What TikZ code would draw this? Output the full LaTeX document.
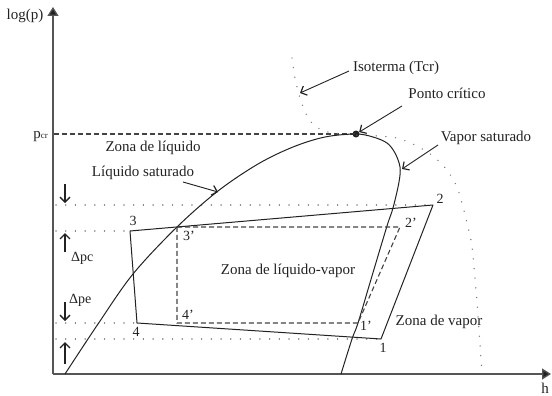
\documentclass[tikz,border=0pt]{standalone}
\usepackage{fontspec}
\setmainfont{Liberation Serif}[Ligatures=ResetAll]
\usetikzlibrary{arrows.meta}
\definecolor{ink}{HTML}{222222}
\definecolor{axisgray}{HTML}{555555}
\definecolor{dotgray}{HTML}{7A7A7A}
\begin{document}
\begin{tikzpicture}[x=1pt,y=-1pt,
  lbl/.style={font=\fontsize{15}{18}\selectfont, text=ink, inner sep=0pt},
  num/.style={font=\fontsize{14}{16}\selectfont, text=ink, inner sep=0pt},
  curve/.style={draw=ink, line width=1pt},
  cyc/.style={draw=ink, line width=1pt, line join=round},
  dcyc/.style={draw=ink!85, line width=1.1pt, dash pattern=on 5pt off 3pt},
  dots/.style={draw=dotgray, line width=1.5pt, dash pattern=on 0.01pt off 9.7pt, line cap=round},
  pointer/.style={draw=ink, line width=0.9pt, -{Straight Barb[length=5pt,width=10pt,line width=1.2pt]}},
  parrow/.style={draw=ink, line width=1.1pt, -{Straight Barb[length=5pt,width=10pt,line width=1.3pt]}},
  axis/.style={draw=axisgray, line width=1.3pt, -{Triangle[length=9pt,width=11pt,fill=ink]}},
]
\useasboundingbox (0,0) rectangle (552,396);

% axes
\coordinate (O) at (53,374);
\coordinate (Ytop) at (53,7);
\coordinate (Xend) at (551,374);
\draw[axis] (O) -- (Ytop);
\draw[axis] (O) -- (Xend);
\node[lbl] (logp) at (25,16) {log(p)};
\node[lbl] (hlab) at (545,388) {h};

% critical pressure
\node[circle, fill=ink, inner sep=0pt, minimum size=7pt] (cp) at (356,134) {};
\coordinate (pcrY) at (54,134);
\draw[dcyc] (pcrY) -- (cp.center);
\node[lbl, anchor=base east] (pcr) at (48,138) {p{\fontsize{9}{9}\selectfont cr}};

% isotherm
\draw[dots] plot[smooth, tension=0.5] coordinates {(292,58) (295,78) (300,98) (307,116) (314,125) (324,131) (340,134) (356,135) (378,136) (397,138) (415,145) (433,156) (447,170) (457,187) (463,207) (468,227) (472,247) (476,290) (479,330) (482,374)};

% pressure levels (dotted)
\coordinate (p1) at (381,339);
\coordinate (p2) at (433,205);
\coordinate (p3) at (130,231);
\coordinate (p4) at (137,323);
\coordinate (q1) at (358,323);
\coordinate (q2) at (400,227);
\coordinate (q3) at (177,227);
\coordinate (q4) at (177,323);
\coordinate (L2) at (56,205);
\coordinate (L3) at (56,231);
\coordinate (L4) at (56,323);
\coordinate (L1) at (56,339);
\draw[dots] (L2) -- (p2);
\draw[dots] (L3) -- (p3);
\draw[dots] (L4) -- (p4);
\draw[dots] (L1) -- (p1);

% saturation dome
\draw[curve] plot[smooth, tension=0.55] coordinates {(65,374) (98,324) (133,274) (177,227) (218,191) (258,164) (293,147) (325,137) (356,134) (373,137) (387,143) (395,153) (400,167) (399,182) (393,208) (387,226) (372,276) (358,323) (352,339) (341,374)};

% ideal cycle (dashed)
\draw[dcyc] (q3) -- (q2) -- (q1) -- (q4) -- cycle;

% real cycle
\draw[cyc] (p3) -- (p2) -- (p1) -- (p4) -- cycle;

% point labels
\node[num] (n1) at (383,348) {1};
\node[num] (n2) at (440,199) {2};
\node[num] (n3) at (133,221) {3};
\node[num] (n4) at (136,332) {4};
\node[num] (n1p) at (366,326) {1'};
\node[num] (n2p) at (411,223) {2'};
\node[num] (n3p) at (189,236) {3'};
\node[num] (n4p) at (188,315) {4'};

% pressure drop arrows
\coordinate (a1s) at (65,184); \coordinate (a1e) at (65,203);
\coordinate (a2s) at (65,252); \coordinate (a2e) at (65,233);
\coordinate (a3s) at (65,302); \coordinate (a3e) at (65,321);
\coordinate (a4s) at (65,364); \coordinate (a4e) at (65,342);
\draw[parrow] (a1s) -- (a1e);
\draw[parrow] (a2s) -- (a2e);
\draw[parrow] (a3s) -- (a3e);
\draw[parrow] (a4s) -- (a4e);
\node[num, anchor=west] (dpc) at (71,258) {Δpc};
\node[num, anchor=west] (dpe) at (69,300) {Δpe};

% zone labels
\node[lbl] (zl) at (153,148) {Zona de líquido};
\node[lbl] (zlv) at (288,271) {Zona de líquido-vapor};
\node[lbl] (zv) at (439,322) {Zona de vapor};

% annotations with pointers
\node[lbl] (iso) at (396,68) {Isoterma (Tcr)};
\coordinate (isoS) at (349,71);
\coordinate (isoT) at (300,93);
\draw[pointer] (isoS) -- (isoT);

\node[lbl] (pc) at (447,93) {Ponto crítico};
\coordinate (pcS) at (402,106);
\draw[pointer] (pcS) -- (cp);

\node[lbl] (vs) at (486,138) {Vapor saturado};
\coordinate (vsS) at (438,145);
\coordinate (vsT) at (402,169);
\draw[pointer] (vsS) -- (vsT);

\node[lbl] (ls) at (143,173) {Líquido saturado};
\coordinate (lsS) at (183,182);
\coordinate (lsT) at (218,192);
\draw[pointer] (lsS) -- (lsT);
\end{tikzpicture}
\end{document}
